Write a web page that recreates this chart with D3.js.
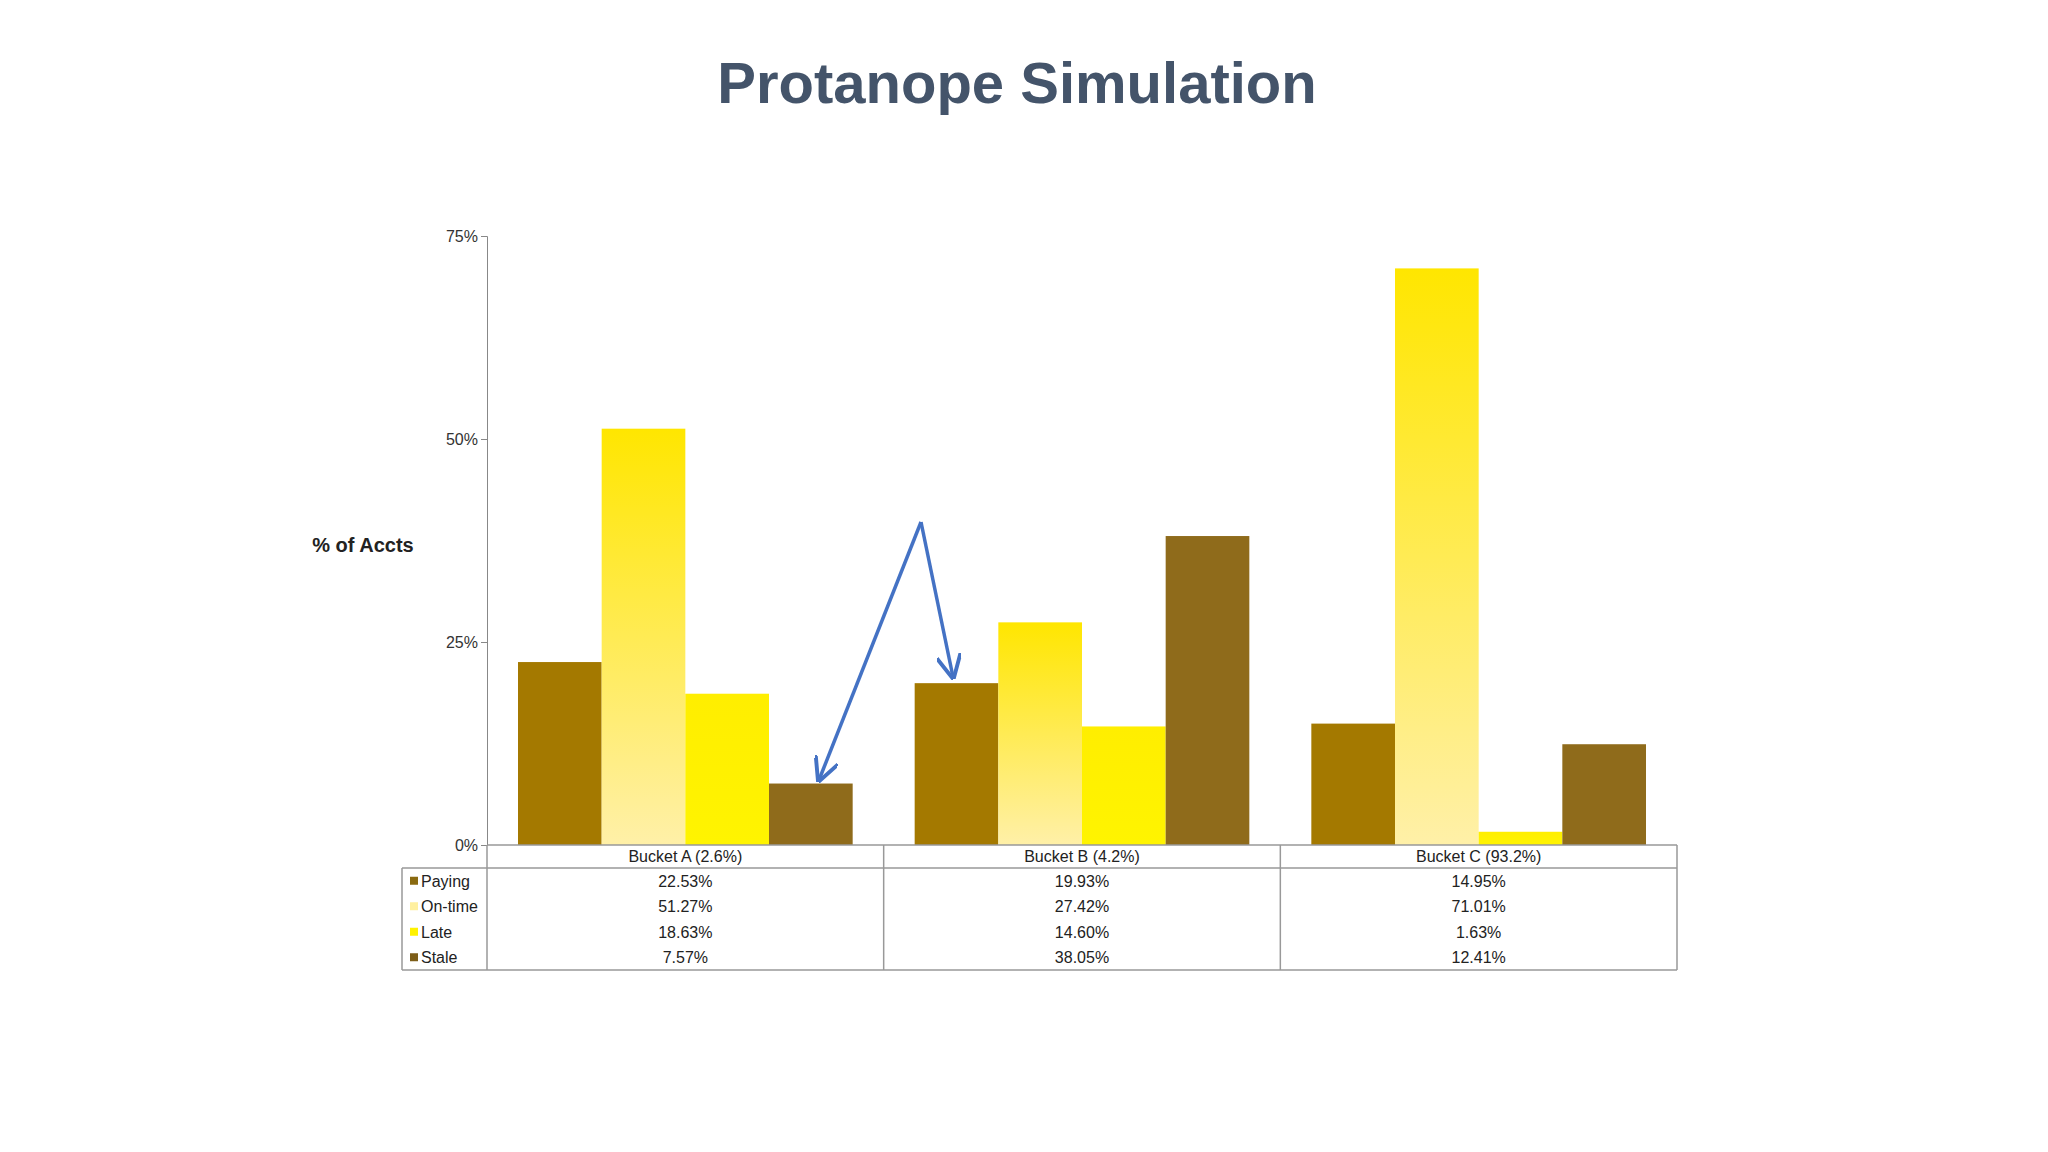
<!DOCTYPE html>
<html><head><meta charset="utf-8">
<script src="https://cdn.jsdelivr.net/npm/d3@7"></script>
<style>body{margin:0;background:#fff}text{font-family:"Liberation Sans",Arial,sans-serif}</style>
</head><body>
<svg id="chart" width="2048" height="1152"></svg>
<script>
// chart data
const buckets = ['Bucket A (2.6%)', 'Bucket B (4.2%)', 'Bucket C (93.2%)'];
const seriesNames = ['Paying', 'On-time', 'Late', 'Stale'];
const paying = [22.53, 19.93, 14.95];
const onTime = [51.27, 27.42, 71.01];
const late = [18.63, 14.60, 1.63];
const stale = [7.57, 38.05, 12.41];
const yTicks = [0, 25, 50, 75];

const seriesValues = [paying, onTime, late, stale];
const colors = ['#a47900', 'url(#gOn)', 'url(#gLate)', '#8f6b1b'];
const swatch = ['#8a6a10', '#fff0a0', '#fff200', '#7d5e18'];

const svg = d3.select('#chart');
const defs = svg.append('defs');
function grad(id, topColor, bottomColor) {
    const g = defs.append('linearGradient').attr('id', id).attr('x1', 0).attr('y1', 0).attr('x2', 0).attr('y2', 1);
    g.append('stop').attr('offset', '0%').attr('stop-color', topColor);
    g.append('stop').attr('offset', '100%').attr('stop-color', bottomColor);
}
grad('gOn', '#ffe600', '#fff0a8');
grad('gLate', '#ffee00', '#fff400');

svg.append('text').attr('x', 1017).attr('y', 103).attr('text-anchor', 'middle')
    .attr('font-size', 58).attr('font-weight', 'bold').attr('fill', '#44546a')
    .text('Protanope Simulation');

const plotLeft = 487, plotRight = 1677, plotTop = 236, base = 845;
const x = d3.scaleBand().domain(buckets).range([plotLeft, plotRight]);
const inner = d3.scaleBand().domain(seriesNames).range([31, x.bandwidth() - 31]);
const y = d3.scaleLinear().domain([0, 75]).range([base, plotTop]);

// bars
buckets.forEach((b, i) => {
    seriesNames.forEach((s, j) => {
        svg.append('rect')
            .attr('x', x(b) + inner(s)).attr('width', inner.bandwidth())
            .attr('y', y(seriesValues[j][i])).attr('height', base - y(seriesValues[j][i]))
            .attr('fill', colors[j]);
    });
});

// y axis
const yAxis = svg.append('g').attr('transform', `translate(${plotLeft},0)`)
    .call(d3.axisLeft(y).tickValues(yTicks).tickSize(6).tickFormat(d => d + '%'));
yAxis.select('.domain').attr('stroke', '#888');
yAxis.selectAll('line').attr('stroke', '#888');
yAxis.selectAll('text').attr('font-size', 16).attr('fill', '#333')
    .attr('font-family', '"Liberation Sans",Arial,sans-serif');

svg.append('text').attr('x', 363).attr('y', 552).attr('text-anchor', 'middle')
    .attr('font-size', 20).attr('font-weight', 'bold').attr('fill', '#222').text('% of Accts');

// data table
const tLeft = 402, rowH = 25.5, hdrBottom = 868;
const line = (x1, y1, x2, y2) => svg.append('line').attr('x1', x1).attr('y1', y1).attr('x2', x2).attr('y2', y2)
    .attr('stroke', '#999').attr('stroke-width', 1.5);
const tBottom = hdrBottom + rowH * 4;
line(plotLeft, base, plotRight, base);
line(tLeft, hdrBottom, plotRight, hdrBottom);
line(tLeft, tBottom, plotRight, tBottom);
line(tLeft, hdrBottom, tLeft, tBottom);
line(plotLeft, base, plotLeft, tBottom);
buckets.forEach(b => line(x(b) + x.bandwidth(), base, x(b) + x.bandwidth(), tBottom));
buckets.forEach(b => {
    svg.append('text').attr('x', x(b) + x.bandwidth() / 2).attr('y', hdrBottom - 6)
        .attr('text-anchor', 'middle').attr('font-size', 16).attr('fill', '#222').text(b);
});
seriesNames.forEach((s, j) => {
    const ry = hdrBottom + rowH * (j + 0.5);
    svg.append('rect').attr('x', tLeft + 8).attr('y', ry - 4).attr('width', 8).attr('height', 8).attr('fill', swatch[j]);
    svg.append('text').attr('x', tLeft + 19).attr('y', ry + 6).attr('font-size', 16).attr('fill', '#222').text(s);
    buckets.forEach((b, i) => {
        svg.append('text').attr('x', x(b) + x.bandwidth() / 2).attr('y', ry + 6)
            .attr('text-anchor', 'middle').attr('font-size', 16).attr('fill', '#222')
            .text(seriesValues[j][i].toFixed(2) + '%');
    });
});

// annotation arrows
defs.append('marker').attr('id', 'ah').attr('viewBox', '0 0 10 10').attr('refX', 9).attr('refY', 5)
    .attr('markerWidth', 7).attr('markerHeight', 7).attr('orient', 'auto')
    .append('path').attr('d', 'M0,0 L10,5 L0,10').attr('fill', 'none').attr('stroke', '#4472c4').attr('stroke-width', 1.6);
const apex = [921, 522];
[[819, 780], [953, 677]].forEach(p => {
    svg.append('line').attr('x1', apex[0]).attr('y1', apex[1]).attr('x2', p[0]).attr('y2', p[1])
        .attr('stroke', '#4472c4').attr('stroke-width', 3.5).attr('marker-end', 'url(#ah)');
});
</script>
</body></html>
